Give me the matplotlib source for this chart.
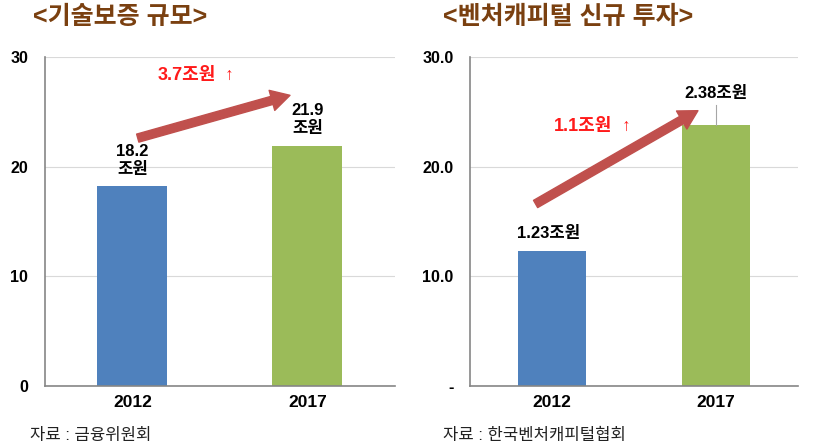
import matplotlib
matplotlib.use("Agg")
from matplotlib import pyplot as plt

# data
years = ["2012", "2017"]
guarantee = [18.2, 21.9]                  # 기술보증 규모 (조원)
guarantee_labels = ["18.2\n조원", "21.9\n조원"]
vc_invest = [12.3, 23.8]                  # 벤처캐피털 신규 투자 (axis scale x10)
vc_labels = ["1.23조원", "2.38조원"]
left_ticks = [0, 10, 20, 30]
left_ticklabels = ["0", "10", "20", "30"]
right_ticks = [0, 10, 20, 30]
right_ticklabels = ["-", "10.0", "20.0", "30.0"]

FONT = ["Liberation Sans", "Noto Sans CJK KR", "DejaVu Sans"]
plt.rcParams["font.family"] = FONT

BLUE = "#4F81BD"
GREEN = "#9BBB59"
BROWN = "#7A4010"
ARROW = "#C0504D"
RED = "#FF1A1A"

fig = plt.figure(figsize=(8.2, 4.48), dpi=100)
ax1 = fig.add_axes([45 / 820, 0.138, 350 / 820, 0.735])
ax2 = fig.add_axes([470 / 820, 0.138, 328 / 820, 0.735])


def style(ax, ticks, ticklabels):
    ax.set_xlim(-0.5, 1.5)
    ax.set_ylim(0, 30)
    ax.set_yticks(ticks)
    ax.set_yticklabels(ticklabels, fontsize=11.5, fontweight="bold")
    ax.set_xticks([0, 1])
    ax.set_xticklabels(years, fontsize=12.5, fontweight="bold")
    ax.tick_params(axis="y", length=0, pad=12)
    ax.tick_params(axis="x", length=0, pad=6)
    ax.grid(axis="y", color="#D9D9D9", linewidth=0.8)
    ax.set_axisbelow(True)
    for s in ["top", "right"]:
        ax.spines[s].set_visible(False)
    for s in ["left", "bottom"]:
        ax.spines[s].set_color("#868686")
        ax.spines[s].set_linewidth(1.2)


def red_label(ax, x, y, amount):
    t = ax.text(x, y, amount, ha="right", va="center", fontsize=13,
                fontweight="bold", color=RED)
    ax.annotate("  ↑", xy=(1, 0.5), xycoords=t, ha="left", va="center",
                fontsize=12, color=RED)


ARROWSTYLE = "simple,head_length=0.9,head_width=1.0,tail_width=0.4"

# left panel
ax1.bar([0, 1], guarantee, width=0.4, color=[BLUE, GREEN])
style(ax1, left_ticks, left_ticklabels)
for i, (v, t) in enumerate(zip(guarantee, guarantee_labels)):
    ax1.text(i, v + 2.4, t, ha="center", va="center", fontsize=12,
             fontweight="bold", linespacing=1.25)
ax1.annotate("", xy=(0.9, guarantee[1] + 4.6), xytext=(0.03, guarantee[0] + 4.4),
             arrowprops=dict(arrowstyle=ARROWSTYLE, mutation_scale=15,
                             color=ARROW, shrinkA=0, shrinkB=0))
red_label(ax1, 0.48, 28.3, "3.7조원")
fig.text(33 / 820, 1 - 17 / 448, "<기술보증 규모>", ha="left", va="center",
         fontsize=18, fontweight="bold", color=BROWN)
fig.text(30 / 820, 1 - 435 / 448, "자료 : 금융위원회", ha="left", va="center",
         fontsize=12, color="#222222")

# right panel
ax2.bar([0, 1], vc_invest, width=0.41, color=[BLUE, GREEN])
style(ax2, right_ticks, right_ticklabels)
ax2.text(0 - 0.02, vc_invest[0] + 1.6, vc_labels[0], ha="center", va="center",
         fontsize=12, fontweight="bold")
ax2.text(1, vc_invest[1] + 2.9, vc_labels[1], ha="center", va="center",
         fontsize=12, fontweight="bold")
ax2.plot([1, 1], [vc_invest[1], vc_invest[1] + 1.8], color="#A6A6A6", linewidth=0.8)
ax2.annotate("", xy=(0.89, vc_invest[1] + 1.3), xytext=(-0.1, vc_invest[0] + 4.3),
             arrowprops=dict(arrowstyle=ARROWSTYLE, mutation_scale=15,
                             color=ARROW, shrinkA=0, shrinkB=0))
red_label(ax2, 0.37, 23.7, "1.1조원")
fig.text(443 / 820, 1 - 17 / 448, "<벤처캐피털 신규 투자>", ha="left", va="center",
         fontsize=18, fontweight="bold", color=BROWN)
fig.text(443 / 820, 1 - 435 / 448, "자료 : 한국벤처캐피털협회", ha="left", va="center",
         fontsize=12, color="#222222")

plt.savefig("out.png", dpi=100)
